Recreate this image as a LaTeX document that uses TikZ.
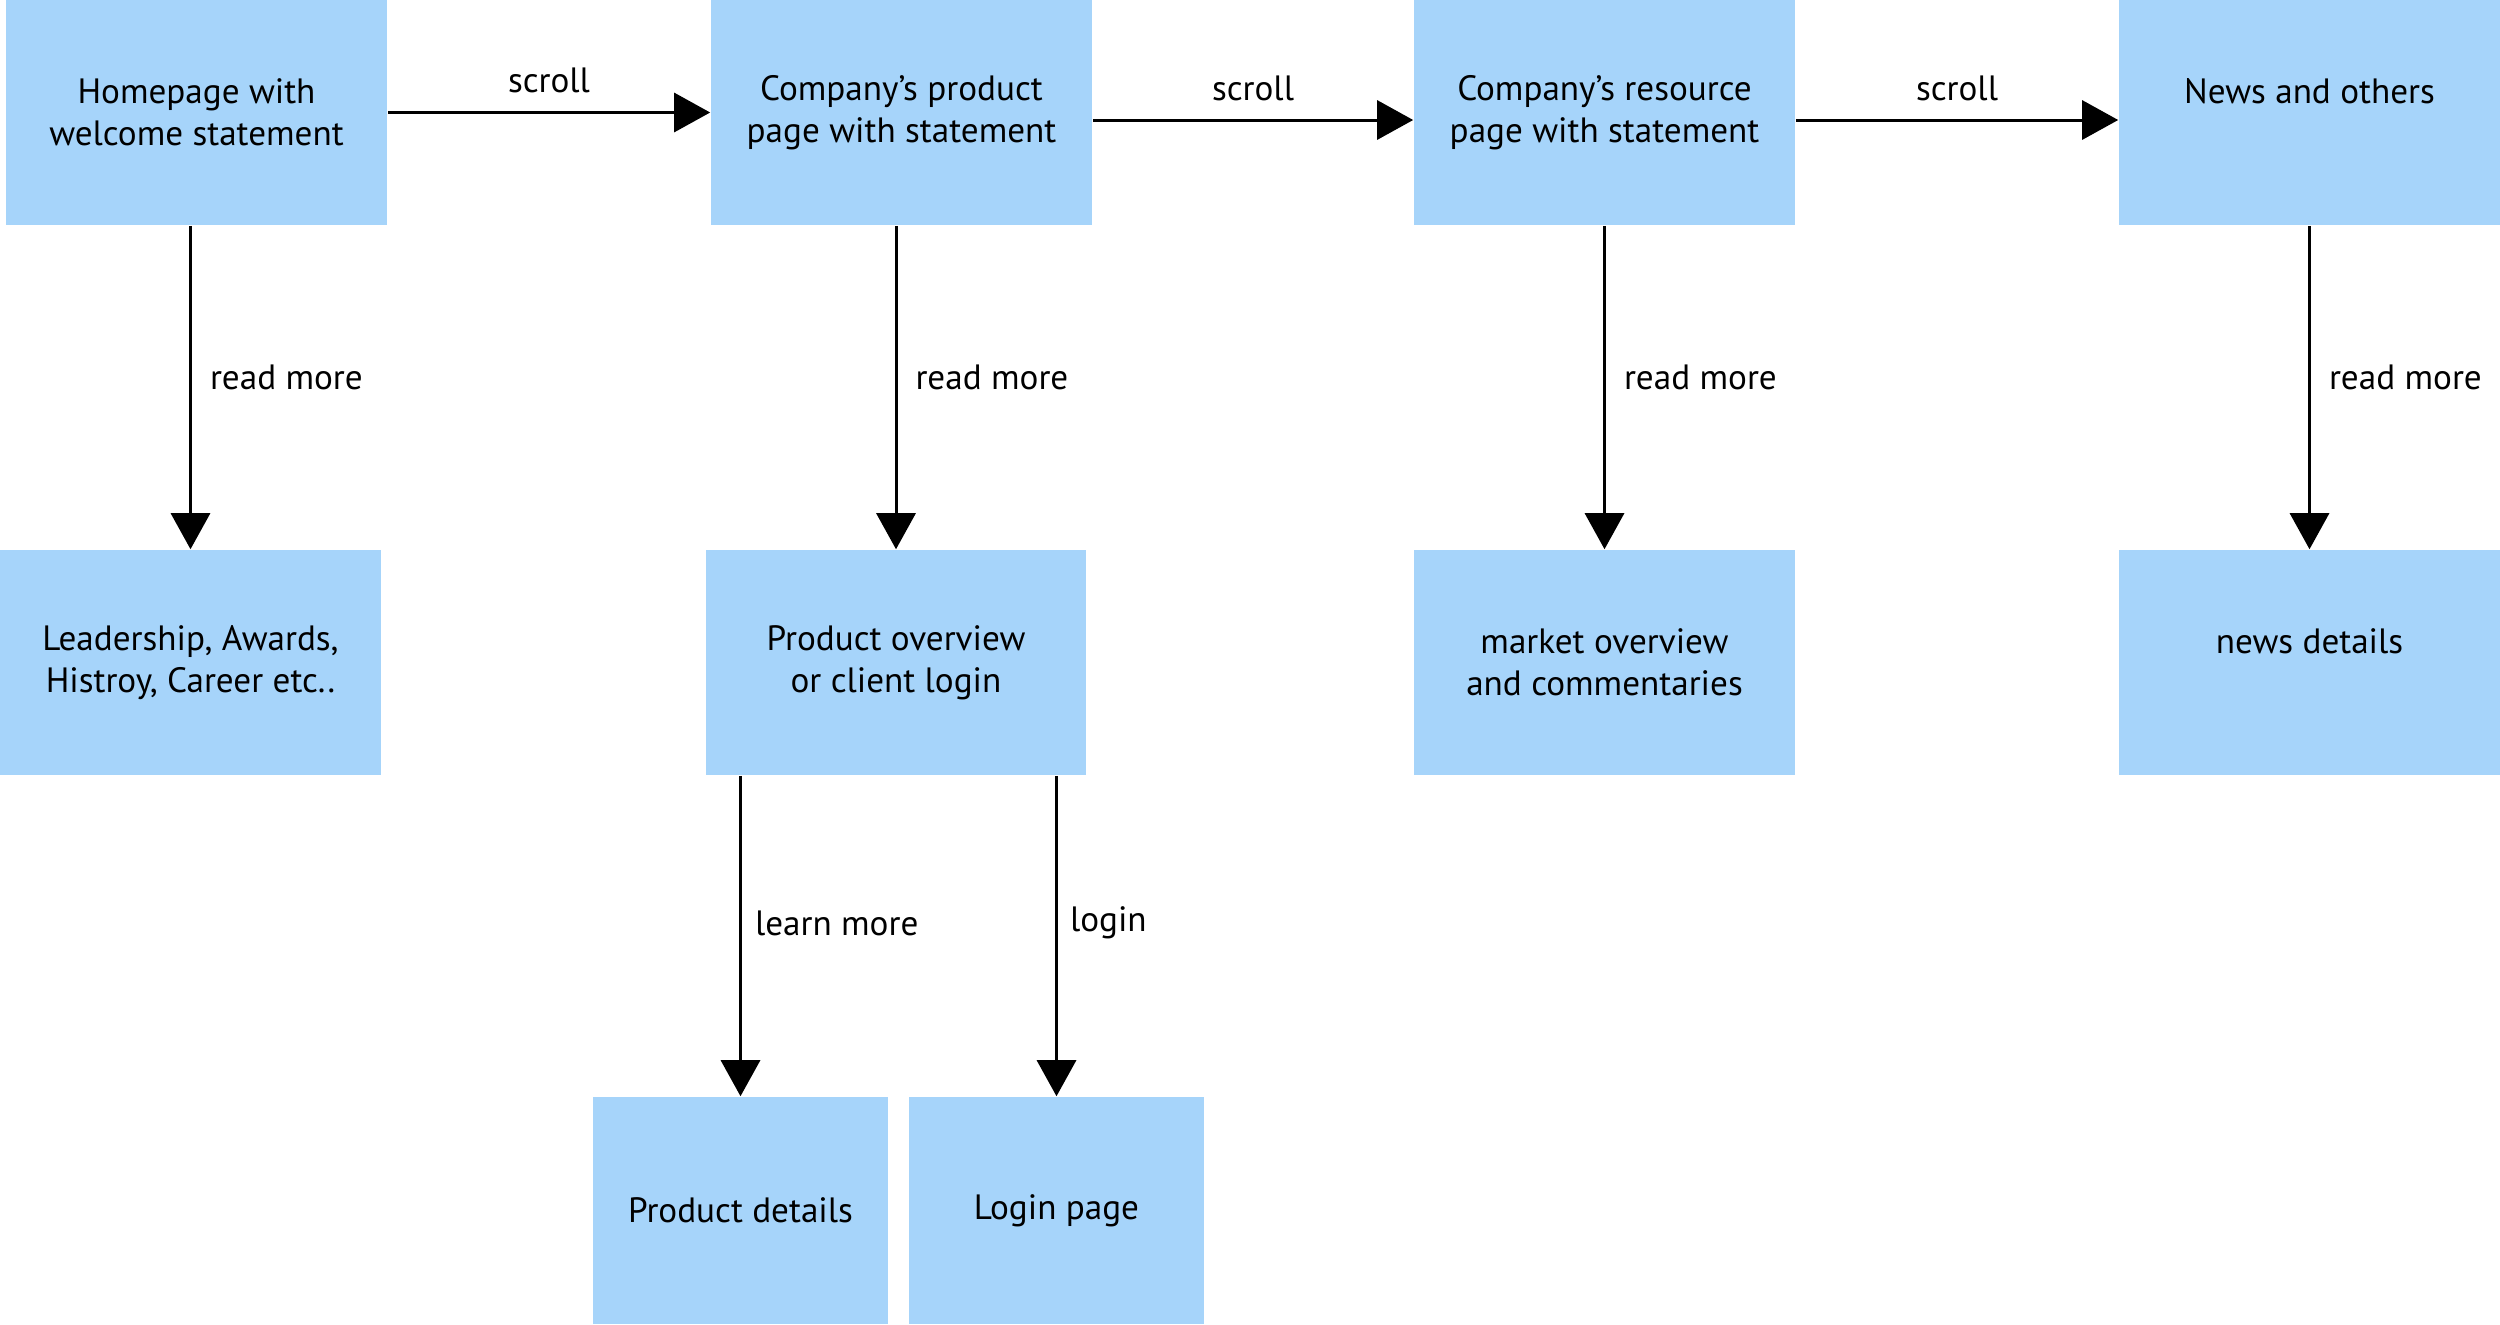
\documentclass[tikz,border=0pt]{standalone}
\usepackage{fontspec}
\setmainfont{PT Sans}
\usetikzlibrary{arrows.meta}
\definecolor{boxblue}{HTML}{A6D4FA}
\begin{document}
\begin{tikzpicture}[x=0.01cm,y=-0.01cm,
  box/.style={fill=boxblue, draw=none, minimum width=3.81cm, minimum height=2.25cm, align=center, inner sep=0pt, font=\fontsize{10}{12}\selectfont},
  sbox/.style={box, minimum width=2.95cm, minimum height=2.27cm},
  lbl/.style={font=\fontsize{10}{12}\selectfont, inner sep=0pt},
  arr/.style={-{Triangle[length=0.36cm,width=0.39cm]}, line width=0.03cm}]
\useasboundingbox (0,0) rectangle (2500,1324);
% top row
\node[box] (home) at (196.5,112.5) {Homepage with\\welcome statement};
\node[box] (product) at (901.5,112.5) {Company’s product\\page with statement};
\node[box] (resource) at (1604.5,112.5) {Company’s resource\\page with statement};
\node[box] (news) at (2309.5,112.5) {News and others\\\mbox{}};
% second row
\node[box] (leader) at (190.5,662.5) {Leadership, Awards,\\Histroy, Career etc..};
\node[box, minimum width=3.80cm] (overview) at (896,662.5) {Product overview\\or client login};
\node[box] (market) at (1604.5,662.5) {market overview\\and commentaries};
\node[box] (newsdet) at (2309.5,662.5) {news details\\\mbox{}};
% third row
\node[sbox] (pdetails) at (740.5,1210.5) {Product details};
\node[sbox] (login) at (1056.5,1210.5) {Login page};
% scroll arrows
\draw[arr] (home.east) -- node[lbl, yshift=0.32cm] {scroll} (product.west);
\draw[arr] ([yshift=-0.075cm]product.east) -- node[lbl, yshift=0.32cm] {scroll} ([yshift=-0.075cm]resource.west);
\draw[arr] ([yshift=-0.075cm]resource.east) -- node[lbl, yshift=0.32cm] {scroll} ([yshift=-0.075cm]news.west);
% read more arrows
\draw[arr] (leader.north |- home.south) -- node[lbl, pos=0.47, anchor=west, xshift=0.18cm] {read more} (leader.north);
\draw[arr] (overview.north |- product.south) -- node[lbl, pos=0.47, anchor=west, xshift=0.18cm] {read more} (overview.north);
\draw[arr] (market.north |- resource.south) -- node[lbl, pos=0.47, anchor=west, xshift=0.18cm] {read more} (market.north);
\draw[arr] (newsdet.north |- news.south) -- node[lbl, pos=0.47, anchor=west, xshift=0.18cm] {read more} (newsdet.north);
% bottom arrows
\draw[arr] (pdetails.north |- overview.south) -- node[lbl, pos=0.46, anchor=west, xshift=0.13cm] {learn more} (pdetails.north);
\draw[arr] (login.north |- overview.south) -- node[lbl, pos=0.46, anchor=west, xshift=0.12cm] {login} (login.north);
\end{tikzpicture}
\end{document}
